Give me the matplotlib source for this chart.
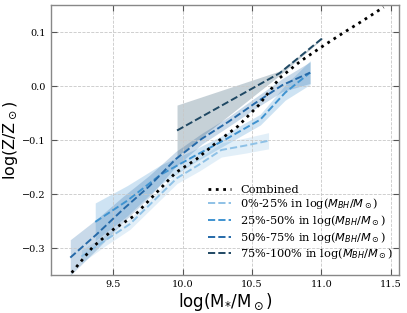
import numpy as np
import matplotlib
matplotlib.use("Agg")
import matplotlib.pyplot as plt

# combined sample
comb_x = [9.20, 9.35, 9.50, 9.65, 9.80, 9.95, 10.10, 10.25, 10.40, 10.55, 10.70, 10.85, 11.00, 11.15, 11.30, 11.45]
comb_y = [-0.345, -0.298, -0.265, -0.240, -0.200, -0.160, -0.135, -0.103, -0.074, -0.035, 0.015, 0.046, 0.072, 0.097, 0.121, 0.146]

# quartiles in black hole mass
q1_x = [9.27, 9.45, 9.62, 9.80, 9.96, 10.12, 10.28, 10.45, 10.62]
q1_y = [-0.315, -0.284, -0.255, -0.210, -0.170, -0.145, -0.118, -0.110, -0.101]
q1_e = [0.012, 0.010, 0.010, 0.010, 0.010, 0.012, 0.013, 0.014, 0.015]

q2_x = [9.37, 9.60, 9.84, 10.08, 10.32, 10.56, 10.74, 10.92]
q2_y = [-0.251, -0.212, -0.164, -0.130, -0.097, -0.062, -0.012, 0.025]
q2_e = [0.035, 0.028, 0.018, 0.012, 0.010, 0.010, 0.014, 0.022]

q3_x = [9.19, 9.38, 9.57, 9.76, 9.95, 10.14, 10.33, 10.52, 10.72, 10.92]
q3_y = [-0.317, -0.274, -0.228, -0.185, -0.135, -0.097, -0.066, -0.032, 0.002, 0.025]
q3_e = [0.033, 0.028, 0.024, 0.020, 0.014, 0.010, 0.009, 0.010, 0.012, 0.020]

q4_x = [9.96, 10.70, 11.01]
q4_y = [-0.082, 0.024, 0.089]
q4_lo = [-0.130, 0.020, 0.088]
q4_hi = [-0.035, 0.028, 0.090]

labels = ['0%-25%', '25%-50%', '50%-75%', '75%-100%']
colors = ['#8ec1e6', '#3f93d0', '#2569a8', '#1f4863']

plt.rcParams['font.family'] = 'DejaVu Serif'
plt.rcParams['mathtext.fontset'] = 'dejavusans'

fig = plt.figure(figsize=(4.07, 3.13), dpi=100)
ax = fig.add_axes([0.125, 0.12, 0.855, 0.864])

ax.plot(comb_x, comb_y, ls=':', color='black', lw=2.0, label='Combined', zorder=5)

series = [(q1_x, q1_y, q1_e), (q2_x, q2_y, q2_e), (q3_x, q3_y, q3_e)]
for (x, y, e), lab, c in zip(series, labels[:3], colors[:3]):
    x = np.array(x); y = np.array(y); e = np.array(e)
    ax.fill_between(x, y - e, y + e, color=c, alpha=0.25, lw=0)
    ax.plot(x, y, ls='--', color=c, lw=1.4, label=lab + r' in log($M_{BH}/M_\odot$)')

ax.fill_between(q4_x, q4_lo, q4_hi, color=colors[3], alpha=0.25, lw=0)
ax.plot(q4_x, q4_y, ls='--', color=colors[3], lw=1.4,
        label=labels[3] + r' in log($M_{BH}/M_\odot$)')

ax.set_xlim(9.05, 11.56)
ax.set_ylim(-0.35, 0.15)
ax.set_xticks([9.5, 10.0, 10.5, 11.0, 11.5])
ax.set_yticks([-0.3, -0.2, -0.1, 0.0, 0.1])
ax.grid(True, ls='--', lw=0.6, color='#c8c8c8')
ax.tick_params(direction='in', top=True, right=True, labelsize=7,
               length=4, width=0.8, color='#555555')
for s in ax.spines.values():
    s.set_color('#888888')
    s.set_linewidth(1.0)

ax.set_xlabel(r'log(M$_{*}$/M$_\odot$)', family='DejaVu Sans', fontsize=12, labelpad=1)
ax.set_ylabel(r'log(Z/Z$_\odot$)', family='DejaVu Sans', fontsize=11.5)
ax.yaxis.set_label_coords(-0.088, 0.5)

ax.legend(loc='lower right', bbox_to_anchor=(0.996, 0.035), borderaxespad=0,
          frameon=False, fontsize=8.2, handlelength=2.0,
          handletextpad=0.8, labelspacing=0.15)

fig.savefig('out.png', dpi=100)
